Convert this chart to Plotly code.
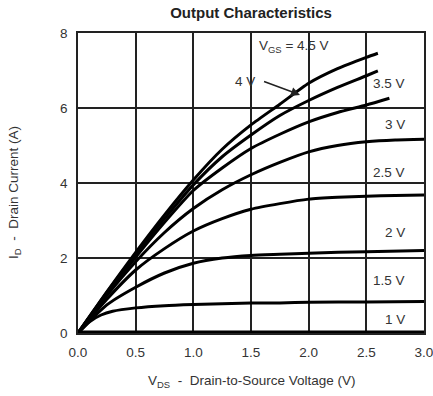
import plotly.graph_objects as go

# ---- data ----
vgs_labels = ["1 V", "1.5 V", "2 V", "2.5 V", "3 V", "3.5 V", "4 V", "4.5 V"]

vds_1v = [0.0, 3.0]
id_1v = [0.0, 0.0]

vds_1v5 = [0, 0.1, 0.2, 0.3, 0.5, 0.75, 1.0, 1.5, 1.75, 2.0, 2.5, 3.0]
id_1v5 = [0, 0.3, 0.48, 0.58, 0.67, 0.73, 0.76, 0.8, 0.8, 0.82, 0.83, 0.84]

vds_2v = [0, 0.25, 0.5, 0.75, 1.0, 1.25, 1.5, 1.75, 2.0, 2.5, 3.0]
id_2v = [0, 0.75, 1.22, 1.6, 1.86, 2.0, 2.07, 2.1, 2.13, 2.17, 2.2]

vds_2v5 = [0, 0.25, 0.5, 0.75, 1.0, 1.25, 1.5, 1.75, 2.0, 2.25, 2.5, 2.75, 3.0]
id_2v5 = [0, 0.9, 1.68, 2.25, 2.72, 3.05, 3.3, 3.45, 3.57, 3.62, 3.65, 3.67, 3.68]

vds_3v = [0, 0.25, 0.5, 0.75, 1.0, 1.25, 1.5, 1.75, 2.0, 2.25, 2.5, 2.75, 3.0]
id_3v = [0, 1.0, 1.9, 2.68, 3.32, 3.82, 4.22, 4.55, 4.83, 5.0, 5.1, 5.15, 5.17]

vds_3v5 = [0, 0.25, 0.5, 0.75, 1.0, 1.25, 1.5, 1.75, 2.0, 2.25, 2.5, 2.7]
id_3v5 = [0, 1.05, 2.02, 2.95, 3.8, 4.4, 4.92, 5.3, 5.63, 5.88, 6.08, 6.26]

vds_4v = [0, 0.25, 0.5, 0.75, 1.0, 1.25, 1.5, 1.75, 2.0, 2.25, 2.5, 2.6]
id_4v = [0, 1.08, 2.1, 3.05, 3.95, 4.7, 5.28, 5.8, 6.2, 6.55, 6.86, 6.99]

vds_4v5 = [0, 0.25, 0.5, 0.75, 1.0, 1.25, 1.5, 1.75, 2.0, 2.25, 2.5, 2.6]
id_4v5 = [0, 1.1, 2.15, 3.15, 4.08, 4.9, 5.55, 6.1, 6.66, 7.05, 7.35, 7.46]

x_ticks = [0.0, 0.5, 1.0, 1.5, 2.0, 2.5, 3.0]
x_ticktext = ["0.0", "0.5", "1.0", "1.5", "2.0", "2.5", "3.0"]
y_ticks = [0, 2, 4, 6, 8]

# label anchors (data coords)
label_x = 2.853
label_y = [0.35, 1.41, 2.67, 4.27, 5.55, 6.66]

curves = [
    (vds_1v, id_1v, 5),
    (vds_1v5, id_1v5, 3),
    (vds_2v, id_2v, 3),
    (vds_2v5, id_2v5, 3),
    (vds_3v, id_3v, 3),
    (vds_3v5, id_3v5, 3),
    (vds_4v, id_4v, 3),
    (vds_4v5, id_4v5, 3),
]

FONT = "Liberation Sans, Arial, sans-serif"
TXT = "#333333"

fig = go.Figure()
for (xs, ys, w), name in zip(curves, vgs_labels):
    fig.add_trace(go.Scatter(x=xs, y=ys, mode="lines", name=name,
                             line=dict(color="black", width=w, shape="spline", smoothing=0.6),
                             showlegend=False, hoverinfo="skip"))

annotations = []
for txt, yy in zip(vgs_labels[:6], label_y):
    annotations.append(dict(x=label_x, y=yy, xref="x", yref="y", text=txt, showarrow=False,
                            xanchor="right", yanchor="middle",
                            font=dict(family=FONT, size=13.5, color=TXT)))

annotations.append(dict(x=1.552, y=6.70, xref="x", yref="y", text="4 V", showarrow=False,
                        xanchor="right", yanchor="middle",
                        font=dict(family=FONT, size=13.5, color=TXT)))
annotations.append(dict(x=1.925, y=6.35, ax=1.60, ay=6.72, xref="x", yref="y",
                        axref="x", ayref="y", text="", showarrow=True,
                        arrowhead=2, arrowsize=1.2, arrowwidth=1.5, arrowcolor="#222"))
annotations.append(dict(x=1.87, y=7.63, xref="x", yref="y",
                        text="V<sub>GS</sub> = 4.5 V", showarrow=False,
                        xanchor="center", yanchor="middle",
                        font=dict(family=FONT, size=13.5, color=TXT)))

annotations.append(dict(x=0.5, y=0, xref="paper", yref="paper",
                        text="V<sub>DS</sub>  -  Drain-to-Source Voltage (V)",
                        showarrow=False, xanchor="center", yanchor="middle", yshift=-48,
                        font=dict(family=FONT, size=13.5, color=TXT)))
annotations.append(dict(x=0, y=0.467, xref="paper", yref="paper",
                        text="I<sub>D</sub>  -  Drain Current (A)", textangle=-90,
                        showarrow=False, xanchor="center", yanchor="middle", xshift=-63,
                        font=dict(family=FONT, size=13.5, color=TXT)))

fig.update_layout(
    width=433, height=396,
    margin=dict(l=78, r=9, t=33, b=63, autoexpand=False),
    paper_bgcolor="white", plot_bgcolor="white",
    title=dict(text="<b>Output Characteristics</b>", x=251 / 433, xanchor="center",
               y=1 - 13 / 396, yanchor="middle",
               font=dict(family=FONT, size=15, color="#222")),
    annotations=annotations,
)
fig.update_xaxes(range=[0, 3], tickvals=x_ticks, ticktext=x_ticktext, automargin=False,
                 ticklabeloverflow="allow",
                 showgrid=True, gridcolor="#222", gridwidth=1.5,
                 showline=True, linecolor="#222", linewidth=1.5, mirror=True,
                 zeroline=False, ticks="outside", ticklen=6, tickcolor="rgba(0,0,0,0)",
                 tickfont=dict(family=FONT, size=13.5, color=TXT), fixedrange=True)
fig.update_yaxes(range=[0, 8], tickvals=y_ticks, automargin=False,
                 ticklabeloverflow="allow",
                 showgrid=True, gridcolor="#222", gridwidth=1.5,
                 showline=True, linecolor="#222", linewidth=1.5, mirror=True,
                 zeroline=False, ticks="outside", ticklen=6, tickcolor="rgba(0,0,0,0)",
                 tickfont=dict(family=FONT, size=13.5, color=TXT), fixedrange=True)

fig.write_html("out.html")
